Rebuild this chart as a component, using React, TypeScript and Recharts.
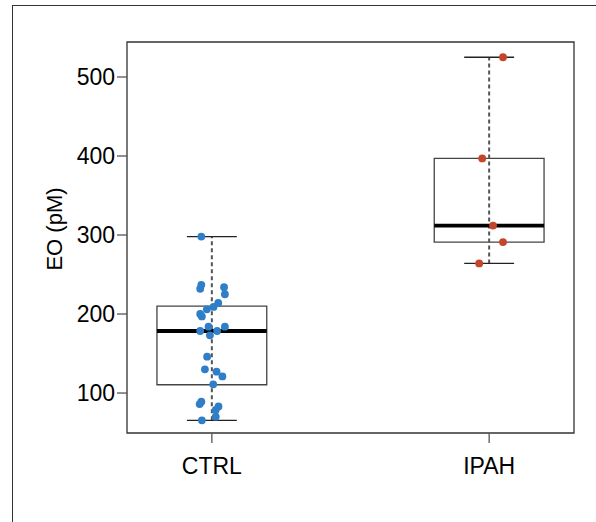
import React from 'react';
import { ComposedChart, Scatter, XAxis, YAxis, ReferenceLine, ReferenceArea, Label } from 'recharts';

const groups = ['CTRL', 'IPAH'];
const groupPos = [1, 2];

const ctrlValues = [298, 237, 232, 234, 225, 214, 209, 206, 200, 197, 184, 184, 178.5, 178.5, 173, 146, 130, 127, 121, 111, 89, 86, 83, 78.5, 70, 65.5];
const ctrlJitter = [-0.038, -0.038, -0.042, 0.044, 0.047, 0.023, 0.006, -0.018, -0.042, -0.036, -0.012, 0.047, -0.042, 0.019, -0.007, -0.017, -0.025, 0.017, 0.038, 0.005, -0.038, -0.044, 0.024, 0.014, 0.014, -0.036];
const ipahValues = [525, 397, 312, 291, 264];
const ipahJitter = [0.05, -0.025, 0.014, 0.05, -0.036];

// box stats: min, q1, median, q3, max
const ctrlBox = [65.5, 110.5, 178.5, 210, 298];
const ipahBox = [264, 291, 312, 397, 525];
const boxes = [ctrlBox, ipahBox];

const yTicks = [100, 200, 300, 400, 500];
const xDomain: [number, number] = [0.694, 2.306];
const yDomain: [number, number] = [49.4, 544.3];

const ctrlData = ctrlValues.map((v, i) => ({ x: 1 + ctrlJitter[i], y: v }));
const ipahData = ipahValues.map((v, i) => ({ x: 2 + ipahJitter[i], y: v }));

const FONT = '"Liberation Sans", Arial, Helvetica, sans-serif';
const BOX_HALF = 0.198;
const CAP_HALF = 0.09;

const dot = (color: string) => (props: any) => (
  <circle cx={props.cx} cy={props.cy} r={3.9} fill={color} />
);

export default function App() {
  return (
    <div style={{ position: 'fixed', left: 0, top: 0, width: 596, height: 522, overflow: 'hidden', background: '#fff' }}>
      <div style={{ position: 'absolute', left: 12, top: 5, width: 700, height: 700, border: '1.5px solid #333', boxSizing: 'border-box' }} />
      <div style={{ position: 'absolute', left: 0, top: 0 }}>
        <ComposedChart width={596} height={522} margin={{ top: 42, right: 22, bottom: 49, left: 57 }}>
          <XAxis
            type="number"
            dataKey="x"
            domain={xDomain}
            ticks={groupPos}
            allowDataOverflow
            tickFormatter={(v: number) => groups[v - 1]}
            axisLine={false}
            tickSize={10}
            tickMargin={15}
            height={40}
            tickLine={{ stroke: '#555', strokeWidth: 1.3 }}
            tick={{ fill: '#000', fontSize: 23, fontFamily: FONT }}
          />
          <YAxis
            type="number"
            dataKey="y"
            domain={yDomain}
            ticks={yTicks}
            allowDataOverflow
            axisLine={false}
            width={70}
            tickSize={10}
            tickMargin={2}
            tickLine={{ stroke: '#555', strokeWidth: 1.3 }}
            tick={{ fill: '#000', fontSize: 23, fontFamily: FONT }}
          >
            <Label
              content={() => (
                <text x={62} y={229} transform="rotate(-90 62 229)" textAnchor="middle" fontSize={22} fontFamily={FONT} fill="#000">
                  EO (pM)
                </text>
              )}
            />
          </YAxis>
          <ReferenceArea
            x1={xDomain[0]}
            x2={xDomain[1]}
            y1={yDomain[0]}
            y2={yDomain[1]}
            ifOverflow="visible"
            fill="none"
            stroke="#333"
            strokeWidth={1.3}
          />
          {boxes.map((b, i) => (
            <ReferenceLine
              key={'w' + i}
              segment={[{ x: groupPos[i], y: b[0] }, { x: groupPos[i], y: b[4] }]}
              stroke="#555"
              strokeWidth={2}
              strokeDasharray="4 3"
            />
          ))}
          {boxes.map((b, i) => (
            <ReferenceArea
              key={'b' + i}
              x1={groupPos[i] - BOX_HALF}
              x2={groupPos[i] + BOX_HALF}
              y1={b[1]}
              y2={b[3]}
              fill="none"
              fillOpacity={0}
              stroke="#444"
              strokeWidth={1.3}
            />
          ))}
          {boxes.map((b, i) => (
            <ReferenceLine
              key={'m' + i}
              segment={[{ x: groupPos[i] - BOX_HALF, y: b[2] }, { x: groupPos[i] + BOX_HALF, y: b[2] }]}
              stroke="#000"
              strokeWidth={3.8}
            />
          ))}
          {boxes.map((b, i) => (
            <ReferenceLine
              key={'lo' + i}
              segment={[{ x: groupPos[i] - CAP_HALF, y: b[0] }, { x: groupPos[i] + CAP_HALF, y: b[0] }]}
              stroke="#222"
              strokeWidth={1.3}
            />
          ))}
          {boxes.map((b, i) => (
            <ReferenceLine
              key={'hi' + i}
              segment={[{ x: groupPos[i] - CAP_HALF, y: b[4] }, { x: groupPos[i] + CAP_HALF, y: b[4] }]}
              stroke="#222"
              strokeWidth={1.3}
            />
          ))}
          <Scatter data={ctrlData} shape={dot('#2f7fc8')} isAnimationActive={false} />
          <Scatter data={ipahData} shape={dot('#c4452a')} isAnimationActive={false} />
        </ComposedChart>
      </div>
    </div>
  );
}
